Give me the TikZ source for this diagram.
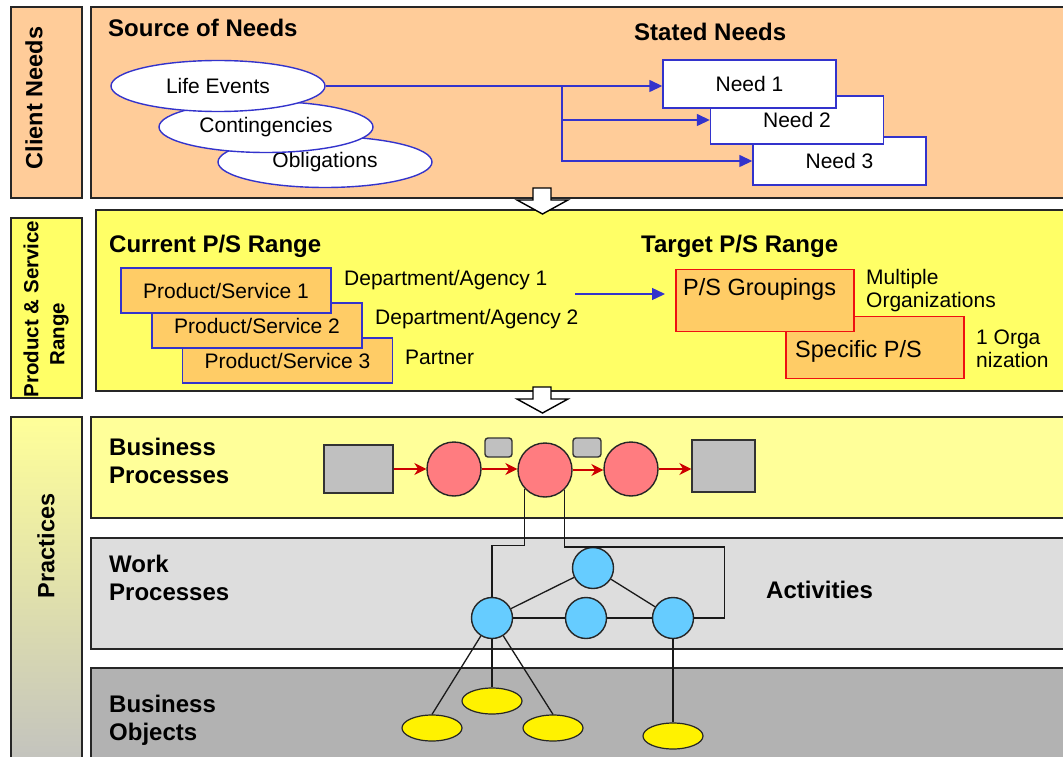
\documentclass[tikz,border=0pt]{standalone}
\usepackage{fontspec}
\setmainfont{Liberation Sans}
\usepackage{tikz}
\usetikzlibrary{shapes.geometric, arrows.meta, positioning, calc}
\definecolor{peach}{HTML}{FFCC99}
\definecolor{lemon}{HTML}{FFFF66}
\definecolor{paleyellow}{HTML}{FFFF99}
\definecolor{psorange}{HTML}{FFCC66}
\definecolor{linkblue}{HTML}{3333CC}
\definecolor{wpgray}{HTML}{DDDDDD}
\definecolor{bogray}{HTML}{B2B2B2}
\definecolor{boxgray}{HTML}{C0C0C0}
\definecolor{sidegray}{HTML}{C3C3BE}
\definecolor{rose}{HTML}{FF7C80}
\definecolor{sky}{HTML}{66CCFF}
\definecolor{arrowred}{HTML}{CC0000}
\definecolor{framered}{HTML}{EE1111}
\tikzset{
  band/.style={draw=black!85, line width=1.6pt, fill=#1},
  sidetag/.style={font=\fontsize{23.5}{27}\selectfont\bfseries, rotate=90, inner sep=0pt},
  heading/.style={font=\fontsize{24}{28}\selectfont\bfseries, anchor=base west, inner sep=0pt},
  plain/.style={font=\fontsize{21}{23}\selectfont, inner sep=0pt},
  source/.style={ellipse, draw=linkblue, line width=1.4pt, fill=white,
    minimum width=214pt, minimum height=51pt, inner sep=0pt, font=\fontsize{21}{23}\selectfont},
  need/.style={rectangle, draw=linkblue, line width=1.4pt, fill=white,
    minimum width=173pt, minimum height=48pt, font=\fontsize{21}{23}\selectfont},
  offer/.style={rectangle, draw=linkblue, line width=1.4pt, fill=psorange,
    minimum width=210pt, minimum height=45pt, font=\fontsize{21}{23}\selectfont},
  target/.style={rectangle, draw=framered, line width=1.4pt, fill=psorange,
    minimum width=178pt, minimum height=62pt, inner sep=0pt},
  flowbox/.style={rectangle, draw=black!80, line width=1.4pt, fill=boxgray, inner sep=0pt},
  proc/.style={circle, draw=black!85, line width=1.4pt, fill=rose, minimum size=54pt, inner sep=0pt},
  act/.style={circle, draw=black!85, line width=1.4pt, fill=sky, minimum size=41pt, inner sep=0pt},
  obj/.style={ellipse, draw=black!85, line width=1.2pt, fill=yellow,
    minimum width=60pt, minimum height=26pt, inner sep=0pt},
  link/.style={draw=black!90, line width=1.3pt},
  bluearrow/.style={-{Triangle[length=13pt,width=12pt]}, linkblue, line width=1.4pt},
  redarrow/.style={-{Stealth[length=12pt,width=12pt]}, arrowred, line width=1.4pt},
  blockarrow/.style={draw=black, line width=1.4pt, fill=white, line join=miter}
}

\begin{document}
\begin{tikzpicture}[x=1pt, y=-1pt]
  \useasboundingbox (0,0) rectangle (1063,757);
  \clip (0,0) rectangle (1063,757);

  % client needs
  \draw[band=peach] (11,7) rectangle (82,198);
  \draw[band=peach] (91,7) rectangle (1075,198);
  \node[sidetag] (cn) at (34,98) {Client Needs};
  \node[heading] (son) at (108,37) {Source of Needs};
  \node[heading] (stn) at (634,41) {Stated Needs};

  \node[source] (obl)  at (325,162) {Obligations};
  \node[source] (con)  at (266,127) {Contingencies};
  \node[source] (life) at (218,86)  {Life Events};
  \node[need] (n3) at (839.5,161) {Need 3};
  \node[need] (n2) at (797,120)   {Need 2};
  \node[need] (n1) at (749.5,84)  {Need 1};

  \coordinate (split) at (562,86);
  \draw[bluearrow] (life.east) -- (life.east -| n1.west);
  \foreach \n in {n2,n3}
    \draw[bluearrow] (split) |- (\n.west);

  % product & service range
  \draw[band=lemon] (11,218) rectangle (82,398);
  \draw[band=lemon] (96,210) rectangle (1075,391);
  \node[sidetag, font=\fontsize{20.5}{26}\selectfont\bfseries, align=center] (psr) at (46,309)
    {Product \& Service\\Range\hspace*{50pt}};
  \node[heading] (cur) at (109,252) {Current P/S Range};
  \node[heading] (tgt) at (641,252) {Target P/S Range};

  \node[offer] (ps3) at (287.5,360.5) {Product/Service 3};
  \node[offer] (ps2) at (257,325.5)   {Product/Service 2};
  \node[offer] (ps1) at (226,290.5)   {Product/Service 1};
  \node[plain, anchor=base west] (ag1) at (344,285) {Department/Agency 1};
  \node[plain, anchor=base west] (ag2) at (375,324) {Department/Agency 2};
  \node[plain, anchor=base west] (prt) at (405,364) {Partner};

  \coordinate (from) at (575,294);
  \coordinate (to) at (665,294);
  \draw[bluearrow] (from) -- (to);

  \node[target] (spec) at (875,347.5) {};
  \node[target] (grp)  at (765,300.5) {};
  \node[plain, font=\fontsize{23.5}{26}\selectfont, anchor=base west] (grptxt) at (683,295) {P/S Groupings};
  \node[plain, font=\fontsize{23.5}{26}\selectfont, anchor=base west] (spectxt) at (795,357) {Specific P/S};
  \node[plain, anchor=west, align=left] (multi) at (866,291) {Multiple\\Organizations};
  \node[plain, anchor=west, align=left] (single) at (976,349) {1 Orga\\nization};

  % practices
  \draw[draw=black!85, line width=1.6pt, top color=paleyellow, bottom color=sidegray] (11,417) rectangle (82,760);
  \draw[band=paleyellow] (91,417) rectangle (1075,518);
  \draw[band=wpgray] (91,538) rectangle (1075,649);
  \draw[band=bogray] (91,668) rectangle (1075,780);
  \node[sidetag] (prc) at (46,546) {Practices};
  \node[heading, anchor=west, align=left] (bp) at (109,461) {Business\\Processes};
  \node[heading, anchor=west, align=left] (wp) at (109,578) {Work\\Processes};
  \node[heading, anchor=west, align=left] (bo) at (109,720) {Business\\Objects};
  \node[heading] (actv) at (766,598) {Activities};

  \node[flowbox, minimum width=69pt, minimum height=48pt] (gr1) at (358.5,469) {};
  \node[proc] (pc1) at (454,469) {};
  \node[proc] (pc2) at (545,470) {};
  \node[proc] (pc3) at (631,469) {};
  \node[flowbox, minimum width=63pt, minimum height=52pt] (gr2) at (723.5,466) {};
  \node[flowbox, rounded corners=3pt, minimum width=27pt, minimum height=19pt] (tk1) at (498.5,447.5) {};
  \node[flowbox, rounded corners=3pt, minimum width=28pt, minimum height=19pt] (tk2) at (587,447.5) {};
  \foreach \a/\b in {gr1/pc1,pc1/pc2,pc2/pc3,pc3/gr2}
    \draw[redarrow] (\a.east) -- (\a.east -| \b.west);

  \node[act] (b1) at (492,618) {};
  \node[act] (b2) at (593,568) {};
  \node[act] (b3) at (586,618) {};
  \node[act] (b4) at (673,618) {};
  \node[obj] (o1) at (432,728) {};
  \node[obj] (o2) at (492,701) {};
  \node[obj] (o3) at (553,728) {};
  \node[obj] (o4) at (673,736) {};

  \draw[link] (pc2.223) |- ($(b1.north)+(0,-51)$) -- (b1.north);
  \draw[link] (pc2.315) |- ($(b4.east)+(30,-71)$) |- (b4.east);
  \foreach \a/\b in {b1/b2,b2/b4,b1/b3,b3/b4}
    \draw[link] (\a) -- (\b);
  \foreach \a/\b in {b1/o1,b1/o2,b1/o3,b4/o4}
    \draw[link] (\a) -- (\b.north);

  % block arrows between the layers
  \foreach \t in {188,387}
    \draw[blockarrow] (533,\t) -- (551,\t) -- (551,\t+12) -- (568,\t+12)
      -- (542.5,\t+26) -- (517,\t+12) -- (533,\t+12) -- cycle;
\end{tikzpicture}
\end{document}
